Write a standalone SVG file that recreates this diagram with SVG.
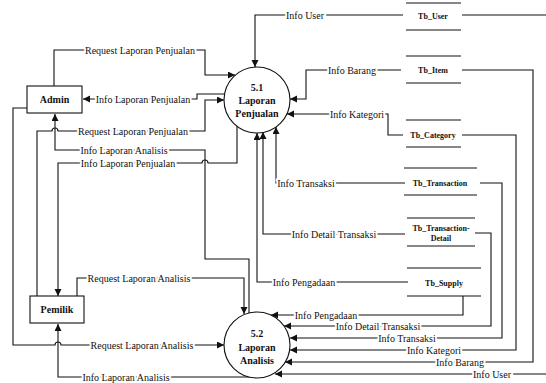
<svg xmlns="http://www.w3.org/2000/svg" width="546" height="383" viewBox="0 0 546 383">
  <style>
    .bg { fill: #ffffff; }
    .flow { fill: none; stroke: #111; stroke-width: 1.1; }
    .arrow { marker-end: url(#head); }
    .lbl { font-family: "Liberation Serif", "Times New Roman", serif; font-size: 10px; fill: #111; text-anchor: middle; paint-order: stroke; stroke: #fff; stroke-width: 4px; stroke-linejoin: round; }
    .proc { fill: #fff; stroke: #111; stroke-width: 1.1; }
    .ent { fill: #fff; stroke: #111; stroke-width: 1.1; }
    .store { stroke: #111; stroke-width: 1.1; }
    .name { font-family: "Liberation Serif", "Times New Roman", serif; font-size: 10px; font-weight: bold; fill: #111; text-anchor: middle; }
    .tbl { font-family: "Liberation Serif", "Times New Roman", serif; font-size: 8px; font-weight: bold; fill: #111; text-anchor: middle; }
  </style>
  <defs>
    <marker id="head" markerUnits="userSpaceOnUse" markerWidth="8" markerHeight="8" refX="7" refY="3.5" orient="auto">
      <path d="M0,0 L7,3.5 L0,7 z" fill="#111"/>
    </marker>
  </defs>
  <rect class="bg" x="0" y="0" width="546" height="383"/>

  <!-- data flows -->
  <g id="connectors">
    <path class="flow arrow" d="M403,15 H255 V67"/>
    <path class="flow arrow" d="M462,15 H552 V374 H275"/>
    <path class="flow arrow" d="M401,70 H306 V99 H290"/>
    <path class="flow arrow" d="M462,70 H533 V362 H285"/>
    <path class="flow arrow" d="M403,135 H388 V114 H287"/>
    <path class="flow arrow" d="M462,135 H516 V350 H290"/>
    <path class="flow arrow" d="M405,183 H276 V127"/>
    <path class="flow arrow" d="M480,183 H502 V338 H290"/>
    <path class="flow arrow" d="M405,234 H263 V132"/>
    <path class="flow arrow" d="M475,233 H491 V326 H284"/>
    <path class="flow arrow" d="M408,282 H257 V133"/>
    <path class="flow arrow" d="M463,296 V315 H271"/>

    <path class="flow arrow" d="M54,86 V50 H205 V75 H235"/>
    <path class="flow arrow" d="M224,94 H197 V99 H83"/>
    <path class="flow arrow" d="M37,296 V131 H52 A3,3 0 0 1 58,131 H205 V100 H224"/>
    <path class="flow arrow" d="M249,313 V259 H205 V150 H55 V114"/>
    <path class="flow arrow" d="M237,126 V163 H208 A3,3 0 0 0 202,163 H58 V296"/>
    <path class="flow arrow" d="M77,296 V278 H244 V314"/>
    <path class="flow arrow" d="M27,108 H13 V345 H55 A3,3 0 0 1 61,345 H224"/>
    <path class="flow arrow" d="M250,377 H58 V324"/>

    <g class="labels">
      <text class="lbl" x="305" y="15" dy="0.35em">Info User</text>
      <text class="lbl" x="352" y="70" dy="0.35em">Info Barang</text>
      <text class="lbl" x="357" y="114" dy="0.35em">Info Kategori</text>
      <text class="lbl" x="306" y="183" dy="0.35em">Info Transaksi</text>
      <text class="lbl" x="334" y="234" dy="0.35em">Info Detail Transaksi</text>
      <text class="lbl" x="304" y="282" dy="0.35em">Info Pengadaan</text>
      <text class="lbl" x="326" y="315" dy="0.35em">Info Pengadaan</text>
      <text class="lbl" x="378" y="326" dy="0.35em">Info Detail Transaksi</text>
      <text class="lbl" x="407" y="338" dy="0.35em">Info Transaksi</text>
      <text class="lbl" x="434" y="350" dy="0.35em">Info Kategori</text>
      <text class="lbl" x="460" y="362" dy="0.35em">Info Barang</text>
      <text class="lbl" x="492" y="374" dy="0.35em">Info User</text>
      <text class="lbl" x="140" y="50" dy="0.35em">Request Laporan Penjualan</text>
      <text class="lbl" x="143" y="99" dy="0.35em">Info Laporan Penjualan</text>
      <text class="lbl" x="133" y="131" dy="0.35em">Request Laporan Penjualan</text>
      <text class="lbl" x="124" y="150" dy="0.35em">Info Laporan Analisis</text>
      <text class="lbl" x="128" y="163" dy="0.35em">Info Laporan Penjualan</text>
      <text class="lbl" x="139" y="278" dy="0.35em">Request Laporan Analisis</text>
      <text class="lbl" x="142" y="345" dy="0.35em">Request Laporan Analisis</text>
      <text class="lbl" x="126" y="377" dy="0.35em">Info Laporan Analisis</text>
    </g>
  </g>

  <!-- external entities -->
  <g id="admin">
    <rect class="ent" x="27" y="86" width="55" height="27"/>
    <text class="name" x="54.5" y="99.5" dy="0.35em">Admin</text>
  </g>
  <g id="pemilik">
    <rect class="ent" x="30" y="296" width="54" height="27"/>
    <text class="name" x="57" y="309.5" dy="0.35em">Pemilik</text>
  </g>

  <!-- processes -->
  <g id="p51">
    <circle class="proc" cx="257" cy="100" r="33"/>
    <text class="name" x="257" y="87" dy="0.35em">5.1</text>
    <text class="name" x="257" y="100" dy="0.35em">Laporan</text>
    <text class="name" x="257" y="113" dy="0.35em">Penjualan</text>
  </g>
  <g id="p52">
    <circle class="proc" cx="257" cy="345" r="33"/>
    <text class="name" x="257" y="333" dy="0.35em">5.2</text>
    <text class="name" x="257" y="347" dy="0.35em">Laporan</text>
    <text class="name" x="257" y="360" dy="0.35em">Analisis</text>
  </g>

  <!-- data stores -->
  <g id="tb-user">
    <line class="store" x1="406" y1="3" x2="461" y2="3"/>
    <line class="store" x1="406" y1="30" x2="461" y2="30"/>
    <text class="tbl" x="433" y="16" dy="0.35em">Tb_User</text>
  </g>
  <g id="tb-item">
    <line class="store" x1="406" y1="56" x2="461" y2="56"/>
    <line class="store" x1="406" y1="83" x2="461" y2="83"/>
    <text class="tbl" x="433" y="70" dy="0.35em">Tb_Item</text>
  </g>
  <g id="tb-category">
    <line class="store" x1="406" y1="120" x2="461" y2="120"/>
    <line class="store" x1="406" y1="147" x2="461" y2="147"/>
    <text class="tbl" x="433" y="135" dy="0.35em">Tb_Category</text>
  </g>
  <g id="tb-transaction">
    <line class="store" x1="404" y1="168" x2="477" y2="168"/>
    <line class="store" x1="404" y1="195" x2="477" y2="195"/>
    <text class="tbl" x="440" y="183" dy="0.35em">Tb_Transaction</text>
  </g>
  <g id="tb-transaction-detail">
    <line class="store" x1="407" y1="218" x2="475" y2="218"/>
    <line class="store" x1="407" y1="246" x2="475" y2="246"/>
    <text class="tbl" x="441" y="228" dy="0.35em">Tb_Transaction-</text>
    <text class="tbl" x="441" y="238" dy="0.35em">Detail</text>
  </g>
  <g id="tb-supply">
    <line class="store" x1="407" y1="268" x2="481" y2="268"/>
    <line class="store" x1="407" y1="296" x2="481" y2="296"/>
    <text class="tbl" x="444" y="283" dy="0.35em">Tb_Supply</text>
  </g>
</svg>
